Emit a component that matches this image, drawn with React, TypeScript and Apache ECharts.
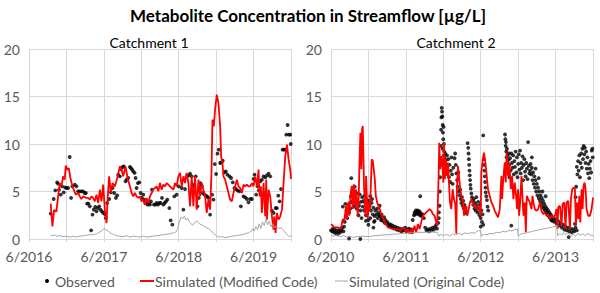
import React, { useEffect, useRef } from "react";
import * as echarts from "echarts";

const FONT = "Lato, 'Open Sans', sans-serif";
const mainTitle = "Metabolite Concentration in Streamflow [µg/L]";
const panelTitles = ["Catchment 1", "Catchment 2"];
const startYears = [2016, 2010]; // x = months since June of start year
const legendNames = ["Observed", "Simulated (Modified Code)", "Simulated (Original Code)"];
const yMax = 20;
const yStep = 5;
const xMaxMonths = 42;
const xStepMonths = 6;

// ---------- Catchment 1 ----------
const c1Observed: number[][] = [
  [3.48,2.67],[3.96,4.21],[4.23,5.12],[4.5,5.96],[4.66,5.82],[4.82,5.19],[5.09,4.67],[5.3,5.54],[5.57,4.91],[5.78,5.44],
  [6.0,5.37],[6.27,5.37],[6.53,8.63],[6.75,4.32],[6.96,5.54],[7.34,5.72],[7.61,5.54],[7.87,5.02],[8.14,5.02],[8.41,5.02],
  [8.68,5.02],[8.94,4.84],[9.11,4.84],[9.32,3.72],[9.53,3.72],[9.75,3.44],[9.96,0.91],[10.18,2.56],[10.39,3.09],[10.61,3.37],
  [10.82,2.91],[11.03,3.26],[11.25,3.44],[11.46,3.09],[11.68,2.91],[11.89,2.74],[12.16,2.63],[12.32,2.21],[12.53,3.79],[12.85,4.21],
  [13.12,4.91],[13.39,5.37],[13.66,4.84],[13.93,4.32],[14.14,4.6],[14.3,6.77],[14.57,6.6],[14.73,7.37],[15.0,7.58],[15.21,7.65],
  [15.48,6.07],[15.64,6.25],[15.91,6.42],[16.18,7.58],[16.34,7.47],[16.55,7.3],[16.71,7.12],[16.93,6.95],[17.09,6.42],[17.25,5.37],
  [17.46,5.89],[17.68,5.96],[17.89,4.84],[18.1,4.32],[18.32,4.67],[18.48,4.14],[18.64,3.79],[18.85,3.96],[19.01,3.61],[19.23,3.79],
  [19.39,3.61],[19.55,3.96],[19.71,5.19],[20.03,3.61],[20.25,3.61],[20.46,3.79],[20.68,3.61],[20.89,3.79],[21.1,3.79],[21.32,4.32],
  [21.53,3.61],[21.75,3.79],[21.96,3.96],[22.17,4.14],[22.5,3.26],[22.71,1.96],[22.98,1.51],[23.3,4.49],[23.67,4.67],[23.99,5.54],
  [24.48,5.37],[24.75,3.09],[25.01,5.26],[25.28,6.6],[25.55,6.67],[25.82,6.88],[26.08,6.6],[26.24,5.72],[26.46,5.54],[26.73,6.6],
  [27.0,3.44],[27.21,4.32],[27.48,5.89],[27.69,5.61],[27.85,4.84],[28.12,4.67],[28.33,4.56],[28.55,4.49],[28.76,4.32],[29.03,2.56],
  [29.35,4.67],[29.57,4.14],[29.78,7.89],[30.0,6.84],[30.21,8.98],[30.42,9.4],[30.64,8.0],[30.85,8.07],[31.06,8.25],[31.33,7.02],
  [31.55,7.12],[31.81,6.77],[32.14,6.6],[32.4,6.42],[32.67,5.96],[32.94,5.37],[33.2,5.26],[33.47,5.09],[33.74,5.02],[33.96,3.44],
  [34.39,4.49],[34.65,4.39],[34.92,4.21],[35.19,3.86],[35.46,4.21],[35.73,4.21],[35.99,6.32],[36.16,6.77],[36.42,4.67],[36.64,5.54],
  [36.85,5.12],[37.06,6.07],[37.33,6.25],[37.6,6.6],[37.87,6.49],[38.14,6.7],[38.41,6.88],[38.67,6.6],[38.94,2.98],[39.21,2.74],
  [39.53,3.26],[39.74,3.26],[39.96,4.56],[40.17,3.96],[40.39,5.26],[40.65,9.4],[40.87,9.4],[41.08,9.4],[41.24,10.98],[41.46,12.0],
  [41.67,10.98],[41.88,10.98],[41.96,10.0]
];
const c1Modified: number[][] = [
  [3.48,3.72],[3.75,1.33],[4.02,3.05],[4.39,2.88],[4.66,4.49],[4.93,5.89],[5.2,5.54],[5.46,6.6],[5.73,6.25],[5.89,7.72],
  [6.11,7.3],[6.37,7.47],[6.64,6.42],[6.96,5.54],[7.18,5.19],[7.5,4.67],[7.87,4.84],[8.14,4.49],[8.4,4.2],[8.68,4.49],
  [9.21,4.32],[9.48,4.32],[9.75,4.14],[10.02,4.49],[10.28,4.32],[10.55,3.96],[10.82,4.67],[11.09,3.79],[11.36,5.19],[11.62,3.96],
  [11.89,5.72],[12.16,3.05],[12.43,1.68],[12.59,4.14],[12.85,6.6],[13.12,4.84],[13.39,5.89],[13.77,5.54],[14.14,6.42],[14.57,7.65],
  [14.84,7.3],[15.1,6.6],[15.48,7.65],[15.8,6.42],[16.18,5.54],[16.44,4.84],[16.71,4.49],[16.98,4.84],[17.25,4.49],[17.51,4.32],
  [17.78,4.49],[18.05,3.96],[18.32,4.14],[18.59,3.61],[18.85,4.32],[19.12,3.79],[19.39,4.49],[19.66,4.84],[19.92,5.19],[20.19,5.37],
  [20.46,5.54],[20.73,5.02],[21.0,5.89],[21.26,5.19],[21.53,5.72],[21.8,5.54],[22.07,5.89],[22.34,5.72],[22.6,5.54],[22.87,5.37],
  [23.14,5.19],[23.41,5.89],[23.67,5.54],[23.94,6.6],[24.21,6.95],[24.48,5.54],[24.75,6.6],[25.01,5.89],[25.28,6.95],[25.55,5.89],
  [25.82,3.44],[26.08,6.6],[26.35,3.44],[26.62,6.6],[26.89,3.09],[27.16,6.25],[27.42,4.49],[27.69,5.89],[27.96,5.19],[28.23,4.49],
  [28.49,2.74],[28.76,4.14],[29.03,3.09],[29.24,6.6],[29.41,12.56],[29.62,11.86],[29.83,13.61],[30.1,15.19],[30.37,14.32],[30.64,11.86],
  [30.8,8.7],[31.01,8.0],[31.17,6.6],[31.44,6.25],[31.71,5.54],[31.98,4.84],[32.24,4.14],[32.51,3.96],[32.78,4.84],[33.05,5.54],
  [33.32,6.25],[33.58,5.54],[33.85,5.37],[34.12,4.84],[34.39,5.72],[34.65,5.54],[34.92,5.72],[35.19,5.54],[35.46,5.54],[35.73,5.89],
  [35.99,5.54],[36.26,6.6],[36.53,5.54],[36.8,7.3],[36.96,4.49],[37.17,5.54],[37.33,2.74],[37.6,5.89],[37.87,2.39],[38.03,6.25],
  [38.14,2.04],[38.41,5.19],[38.67,4.49],[38.94,2.39],[39.21,0.98],[39.32,2.39],[39.53,0.63],[39.74,2.74],[40.01,2.04],[40.28,2.39],
  [40.55,3.09],[40.81,5.89],[41.08,8.7],[41.35,9.93],[41.62,8.35],[41.88,7.3],[42.0,6.32]
];
const c1Original: number[][] = [
  [3.48,0.4],[3.86,0.35],[4.12,0.45],[4.39,0.3],[4.93,0.35],[5.46,0.25],[6.0,0.3],[6.53,0.2],[7.07,0.3],[7.61,0.2],
  [8.14,0.3],[8.68,0.35],[9.21,0.4],[9.75,0.45],[10.28,0.45],[10.82,0.55],[11.36,0.75],[11.62,0.85],[11.89,1.0],[12.05,1.15],
  [12.32,0.95],[12.69,0.85],[13.07,0.6],[13.5,0.5],[14.03,0.35],[14.57,0.3],[15.1,0.25],[15.64,0.35],[16.18,0.2],[16.71,0.3],
  [17.25,0.25],[17.78,0.2],[18.32,0.3],[18.85,0.2],[19.39,0.25],[19.92,0.3],[20.46,0.35],[21.0,0.4],[21.53,0.45],[22.07,0.5],
  [22.6,0.55],[23.14,0.65],[23.57,0.75],[23.84,1.1],[24.1,1.8],[24.37,2.3],[24.64,2.15],[24.91,2.4],[25.17,2.0],[25.44,2.2],
  [25.71,1.8],[25.98,1.6],[26.24,1.45],[26.51,1.7],[26.89,1.9],[27.26,1.65],[27.58,1.5],[27.96,1.4],[28.39,1.2],[28.76,1.1],
  [29.14,0.9],[29.57,0.6],[30.0,0.35],[30.42,0.2],[30.91,0.25],[31.44,0.15],[31.98,0.2],[32.51,0.3],[33.05,0.35],[33.58,0.4],
  [34.12,0.45],[34.65,0.55],[35.19,0.65],[35.56,0.8],[35.89,1.1],[36.1,0.85],[36.37,1.3],[36.64,1.0],[36.9,1.6],[37.17,1.1],
  [37.44,1.8],[37.71,1.4],[37.98,2.1],[38.24,1.5],[38.51,1.9],[38.78,1.3],[39.05,1.6],[39.32,1.2],[39.64,1.35],[40.01,1.1],
  [40.39,1.2],[40.71,1.0],[40.97,0.8],[41.24,0.55],[41.51,0.4],[41.78,0.2],[42.0,0.4]
];

// ---------- Catchment 2 ----------
const c2Observed: number[][] = [
  [0.0,0.9],[0.2,0.8],[0.3,1.1],[0.5,0.7],[0.6,1.0],[0.8,0.6],[0.9,0.9],[1.1,0.5],[1.2,0.8],[1.4,1.0],[1.5,0.7],[1.7,0.9],[1.8,1.2],[2.0,0.8],[2.1,1.3],
  [1.9,3.4],[2.3,3.7],[2.2,1.8],[2.4,2.4],[2.5,3.0],[2.6,2.2],[2.8,3.6],[2.9,2.8],[3.0,3.8],[3.1,3.2],[3.2,4.5],[3.3,3.9],[3.25,6.4],[3.5,4.8],[3.6,3.4],
  [3.7,4.0],[3.8,5.5],[3.9,3.6],[4.0,4.3],[4.1,3.2],[4.2,4.8],[4.3,3.8],[4.4,2.5],[4.5,3.5],[4.6,4.7],[4.7,3.0],[4.8,3.9],[4.9,2.2],[5.0,4.4],[5.1,3.4],
  [5.2,4.0],[5.3,3.0],[5.4,4.6],[5.5,3.8],[5.6,2.5],[5.7,3.2],[5.8,4.1],[5.9,3.6],[6.0,2.0],[6.1,4.0],[6.2,3.5],[6.3,4.5],[6.4,3.0],[6.5,3.8],[6.6,4.2],
  [6.7,2.6],[6.8,3.3],[6.9,1.8],[7.0,2.4],[2.9,0.05],[4.7,0.0],[5.6,1.9],[6.0,1.5],[6.3,2.2],[6.8,1.2],[7.0,1.9],
  [7.1,3.0],[7.3,2.6],[7.4,3.2],[7.5,2.2],[7.6,2.8],[7.7,2.5],[7.8,3.5],[7.9,2.4],[8.0,2.0],[8.1,2.6],[8.2,2.2],[8.3,1.9],[8.5,2.3],[8.6,1.7],[8.7,2.0],
  [8.9,1.6],[9.0,1.8],[9.2,1.4],[9.3,1.6],[9.5,1.3],[9.6,1.5],[9.8,1.2],[9.9,1.4],[10.1,1.1],[10.3,1.3],[10.5,1.0],[10.7,1.2],[10.9,0.9],[11.1,1.1],[11.3,0.8],
  [11.5,1.0],[11.7,0.9],[11.9,1.2],[12.1,0.8],[12.3,1.0],[12.5,1.1],[12.7,0.9],[12.9,1.0],[13.0,0.7],
  [13.1,2.0],[13.3,2.5],[13.4,2.8],[13.5,2.6],[13.6,3.0],[13.7,2.7],[13.8,2.9],[13.9,3.0],[14.0,2.6],[14.1,2.8],[14.2,2.9],[14.3,2.5],[14.4,2.7],[14.5,2.4],[14.7,2.6],
  [14.9,2.2],[14.3,4.5],[15.1,1.2],[15.3,0.9],[15.5,1.0],[15.7,0.8],[15.9,1.1],[16.1,0.9],[16.3,1.2],[16.5,1.0],[16.7,1.3],[16.9,1.5],[17.0,1.1],[17.2,1.7],[17.3,2.2],
  [17.3,2.8],[17.4,3.5],[17.45,5.0],[17.5,6.5],[17.55,8.0],[17.6,9.8],[17.65,11.5],[17.7,12.8],[17.75,13.8],[17.8,13.4],[17.85,12.9],[17.9,12.0],[17.95,11.2],[18.0,10.5],[18.05,11.8],
  [18.1,10.0],[18.15,9.2],[18.2,8.5],[17.7,7.8],[17.8,8.2],[17.9,9.5],[18.0,8.0],[18.1,8.8],[18.2,7.6],[18.3,9.0],[18.4,8.3],[18.5,7.5],[18.6,8.8],[18.7,7.0],[18.8,8.4],
  [18.9,6.5],[19.0,7.8],[19.1,6.0],[19.2,7.2],[19.3,8.6],[19.4,6.8],[19.5,5.8],[19.6,7.5],
  [19.8,8.5],[19.9,9.0],[20.0,7.8],[20.1,6.9],[20.2,6.2],[20.3,5.5],[20.4,7.0],[20.5,5.0],[20.6,4.6],[20.7,5.2],[20.8,4.2],[20.9,3.8],[21.0,4.4],[21.1,3.5],[21.2,4.0],
  [21.3,3.2],[21.4,3.6],[21.5,2.9],[21.6,3.3],[21.7,2.7],
  [21.9,10.1],[22.0,9.6],[22.05,9.0],[22.1,8.4],[22.15,7.8],[22.2,7.2],[22.25,6.7],[22.3,6.2],[22.35,5.7],[22.4,5.3],[22.5,4.8],[22.6,4.4],
  [22.7,4.0],[22.8,3.6],[22.9,4.2],[23.0,3.2],[23.1,3.8],[23.2,3.0],[23.3,4.4],[23.4,3.5],[23.5,2.8],[23.6,3.9],[23.7,3.2],[23.8,2.5],[23.9,3.6],[24.0,2.2],[24.1,3.0],
  [24.2,1.8],[24.3,2.6],[24.4,1.5],[24.0,1.3],
  [24.4,10.9],[24.5,8.4],[24.55,7.8],[24.6,7.2],[24.65,6.6],[24.7,6.0],[24.75,5.4],[24.8,4.9],[24.9,4.5],[25.0,4.1],[25.1,3.4],[25.2,3.0],
  [27.9,11.0],[27.95,10.5],[28.0,9.8],[28.05,10.2],[28.1,9.2],[28.15,8.6],[28.2,9.5],[28.25,8.0],[28.3,8.8],[28.35,7.6],[28.4,8.3],[28.45,7.0],[28.5,9.0],[28.55,7.8],[28.6,6.5],
  [28.7,8.5],[28.8,7.2],[28.9,9.0],[28.9,1.4],[29.0,8.0],[29.1,7.5],[29.2,8.8],[29.3,6.8],[29.4,8.2],[29.5,7.6],[29.6,9.2],[29.7,7.0],[29.8,8.6],[29.9,6.5],[30.0,7.9],
  [30.1,8.9],[30.2,7.3],[30.3,9.3],[30.4,6.9],[30.5,8.0],[30.6,7.5],[30.7,8.7],[30.8,6.2],[30.9,7.8],[31.0,8.4],[31.1,7.1],[31.2,6.6],[31.3,8.0],[31.4,7.4],[31.5,6.3],
  [31.6,10.2],[31.7,7.7],[31.8,6.9],[31.9,7.2],
  [32.0,7.9],[32.1,6.8],[32.2,7.5],[32.3,6.2],[32.4,7.0],[32.5,5.8],[32.6,6.6],[32.7,5.4],[32.8,6.2],[32.9,5.0],[33.0,5.8],[33.1,4.6],[33.2,5.4],[33.3,4.3],[33.4,5.0],
  [33.5,4.0],[33.6,4.6],[33.7,3.7],[33.8,4.3],[33.9,3.4],[34.0,4.0],[34.1,3.2],[34.2,3.7],[34.3,3.0],[34.4,3.4],[34.5,2.8],[34.6,3.2],[34.7,2.6],[34.8,3.0],[34.9,2.4],
  [35.0,2.8],[35.1,2.2],[35.2,2.6],[35.3,2.0],[35.4,2.4],[35.5,1.9],[35.6,2.2],[32.2,8.6],[32.8,7.4],[33.3,6.4],[33.9,5.0],[34.4,4.5],
  [35.8,1.8],[36.0,2.1],[36.2,1.6],[36.4,1.9],[36.6,1.4],[36.8,1.7],[37.0,1.2],[37.2,1.5],[37.4,1.0],[37.6,1.3],[37.8,0.9],[38.0,1.2],[38.1,0.2],[38.2,0.8],[38.4,1.1],
  [38.6,0.7],[38.8,1.0],[39.0,0.8],[39.2,1.2],[39.4,0.9],[39.1,1.6],
  [39.2,4.4],[39.3,5.5],[39.4,7.6],[39.5,6.8],[39.6,8.2],[39.7,7.2],[39.8,8.8],[39.9,6.5],[40.0,8.0],[40.1,9.0],[40.2,7.5],[40.3,9.5],[40.4,8.4],[40.5,9.8],[40.6,8.9],
  [40.7,9.6],[40.8,8.0],[40.9,9.2],[41.0,7.4],[41.1,8.6],[41.2,6.9],[41.3,7.9],[41.4,6.4],[41.5,7.4],[41.6,8.2],[41.7,7.0],[41.8,9.3],[41.9,9.5],[41.95,8.6]
];
const c2Modified: number[][] = [
  [0,1.57],[0.27,1.4],[0.54,1.22],[1.07,1.22],[1.61,1.12],[1.87,2.1],[2.14,1.92],[2.41,3.5],[2.57,2.1],[2.79,3.85],
  [2.95,2.45],[3.11,4.55],[3.32,5.59],[3.48,3.15],[3.64,5.77],[3.86,3.5],[4.02,5.24],[4.28,2.45],[4.45,4.55],[4.55,7.69],
  [4.71,11.19],[4.87,7.34],[4.98,11.54],[5.09,11.89],[5.2,8.74],[5.3,5.24],[5.41,4.55],[5.52,2.45],[5.62,6.64],[5.78,3.85],
  [5.89,2.1],[6.05,3.85],[6.21,2.97],[6.37,5.24],[6.53,8.39],[6.7,8.22],[6.86,7.34],[7.02,6.29],[7.18,4.55],[7.39,3.85],
  [7.61,3.5],[7.82,3.15],[8.03,2.62],[8.3,2.27],[8.57,1.82],[8.84,1.57],[9.11,1.22],[9.64,1.12],[10.18,1.05],[10.71,1.05],
  [11.14,0.87],[11.52,1.22],[11.78,1.05],[12.05,0.7],[12.32,1.05],[12.59,0.52],[12.86,1.05],[13.12,0.63],[13.39,1.4],[13.66,0.7],
  [13.93,1.57],[14.19,1.05],[14.46,1.75],[14.73,2.45],[15.0,2.62],[15.27,2.8],[15.53,2.97],[15.8,3.15],[16.07,2.97],[16.34,2.62],
  [16.6,2.45],[16.87,1.75],[17.03,1.4],[17.25,6.64],[17.35,10.14],[17.51,7.34],[17.68,8.74],[17.84,8.04],[18.0,5.94],[18.1,10.14],
  [18.26,6.29],[18.43,8.39],[18.59,6.64],[18.75,8.04],[18.91,5.94],[19.07,3.85],[19.28,3.15],[19.5,5.24],[19.71,4.2],[19.92,3.67],
  [20.09,0.56],[20.19,5.24],[20.35,7.69],[20.51,6.64],[20.67,5.59],[20.89,4.55],[21.16,3.85],[21.32,2.45],[21.53,3.5],[21.69,3.15],
  [21.85,2.45],[22.07,3.15],[22.28,3.85],[22.5,4.2],[22.76,3.67],[23.03,3.5],[23.3,3.15],[23.57,3.5],[23.84,3.15],[24.0,2.45],
  [24.1,6.99],[24.32,8.39],[24.53,9.09],[24.75,8.04],[24.96,6.64],[25.17,5.24],[25.44,4.55],[25.71,3.85],[25.98,3.5],[26.25,2.97],
  [26.51,2.62],[26.78,2.27],[27.05,3.15],[27.32,6.64],[27.42,4.2],[27.58,5.94],[27.75,7.34],[27.85,8.04],[28.01,5.94],[28.17,9.09],
  [28.39,6.64],[28.6,8.04],[28.82,5.24],[29.03,6.64],[29.24,4.2],[29.46,5.94],[29.67,4.55],[29.83,3.15],[29.99,5.24],[30.16,2.45],
  [30.32,3.85],[30.53,6.64],[30.69,4.55],[30.85,2.45],[31.07,3.85],[31.23,0.7],[31.39,4.55],[31.6,4.2],[31.87,3.85],[32.14,3.15],
  [32.3,4.55],[32.46,3.85],[32.67,3.15],[32.94,2.97],[33.21,3.15],[33.48,3.85],[33.74,2.97],[34.01,2.62],[34.28,2.8],[34.55,2.45],
  [34.81,2.62],[35.08,2.1],[35.35,2.45],[35.62,2.27],[35.89,2.45],[36.15,3.15],[36.32,1.05],[36.42,3.32],[36.69,3.5],[36.96,1.4],
  [37.12,3.67],[37.39,3.85],[37.6,1.05],[37.76,3.85],[38.03,4.02],[38.3,1.05],[38.46,4.2],[38.67,5.24],[38.89,5.42],[39.1,5.24],
  [39.26,1.4],[39.42,3.85],[39.64,2.1],[39.8,4.55],[39.96,1.75],[40.17,5.24],[40.33,3.15],[40.49,5.59],[40.65,5.94],[40.81,5.24],
  [40.97,3.15],[41.24,2.45],[41.51,2.45],[41.78,3.15],[42.0,4.37]
];
const c2Original: number[][] = [
  [0,0.4],[0.5,0.3],[1,0.45],[1.5,0.25],[2,0.35],[2.5,0.2],[3,0.3],[3.5,0.15],[4,0.25],[5,0.3],[6,0.25],[7,0.35],[8,0.4],[9,0.45],
  [10,0.5],[11,0.55],[12,0.6],[13,0.65],[14,0.7],[15,0.7],[16,0.75],[17,0.7],[17.3,0.3],[17.6,0.5],[18,0.35],[18.5,0.5],[19,0.3],
  [19.5,0.55],[20,0.4],[20.5,0.6],[21,0.45],[21.5,0.65],[22,0.55],[22.5,0.7],[23,0.6],[23.5,0.85],[24,0.9],[24.1,0.3],[24.5,0.5],
  [25,0.45],[25.5,0.6],[26,0.55],[26.5,0.7],[27,0.65],[27.5,0.8],[28,0.75],[28.5,0.9],[29,0.85],[29.5,1.0],[29.9,1.05],[30.0,0.3],
  [30.5,0.55],[31,0.6],[31.5,0.7],[32,0.75],[32.5,0.85],[33,0.9],[33.5,1.0],[34,1.05],[34.5,1.1],[35,1.2],[35.5,1.25],[36,1.35],
  [36.2,1.45],[36.3,0.3],[36.7,0.6],[37,0.4],[37.3,0.7],[37.6,0.45],[38,0.65],[38.4,0.3],[38.8,0.5],[39.2,0.3],[39.6,0.6],[40,0.4],
  [40.4,0.55],[40.8,0.35],[41.2,0.6],[41.6,0.4],[42.0,0.35]
];

const panels = [
  { observed: c1Observed, modified: c1Modified, original: c1Original },
  { observed: c2Observed, modified: c2Modified, original: c2Original },
];

const GRID = [
  { left: 29, top: 49, width: 262, height: 190 },
  { left: 331, top: 49, width: 262, height: 190 },
];
const GRAY_TEXT = "#595959";
const GRID_LINE = "#d9d9d9";
const RED = "#ff0000";
const ORIG = "#a6a6a6";

export default function App() {
  const ref = useRef<HTMLDivElement>(null);
  useEffect(() => {
    if (!ref.current) return;
    const chart = echarts.init(ref.current, null, { renderer: "svg" });
    const xAxes = panels.map((_, i) => ({
      type: "value",
      gridIndex: i,
      min: 0,
      max: xMaxMonths,
      interval: xStepMonths,
      axisLine: { show: true, lineStyle: { color: GRID_LINE, width: 1 } },
      axisTick: { show: true, length: 3, lineStyle: { color: GRID_LINE } },
      splitLine: { show: true, lineStyle: { color: GRID_LINE, width: 1 } },
      axisLabel: {
        color: GRAY_TEXT,
        fontFamily: FONT,
        fontSize: 14,
        lineHeight: 14,
        margin: 10,
        showMaxLabel: true,
        formatter: (v: number) => (v % 12 === 0 ? `6/${startYears[i] + v / 12}` : ""),
      },
    }));
    const yAxes = panels.map((_, i) => ({
      type: "value",
      gridIndex: i,
      min: 0,
      max: yMax,
      interval: yStep,
      axisLine: { show: false },
      axisTick: { show: false },
      splitLine: { show: true, lineStyle: { color: GRID_LINE, width: 1 } },
      axisLabel: { color: GRAY_TEXT, fontFamily: FONT, fontSize: 14, lineHeight: 14, margin: 9 },
    }));
    const series: any[] = [];
    panels.forEach((p, i) => {
      series.push({
        type: "scatter",
        name: legendNames[0],
        xAxisIndex: i,
        yAxisIndex: i,
        data: p.observed,
        symbol: "circle",
        symbolSize: 3.8,
        itemStyle: { color: "#000000" },
        z: 2,
      });
      series.push({
        type: "line",
        name: legendNames[1],
        xAxisIndex: i,
        yAxisIndex: i,
        data: p.modified,
        showSymbol: false,
        lineStyle: { color: RED, width: 1.8 },
        z: 3,
      });
      series.push({
        type: "line",
        name: legendNames[2],
        xAxisIndex: i,
        yAxisIndex: i,
        data: p.original,
        showSymbol: false,
        lineStyle: { color: ORIG, width: 1 },
        z: 4,
      });
    });
    const legendY = 281;
    chart.setOption({
      animation: false,
      backgroundColor: "#ffffff",
      grid: GRID,
      xAxis: xAxes,
      yAxis: yAxes,
      series,
      graphic: [
        {
          type: "text", x: 308, y: 15,
          style: { text: mainTitle, fontFamily: FONT, fontSize: 17, fontWeight: "bold", fill: "#000", align: "center", verticalAlign: "middle" },
        },
        {
          type: "text", x: 149, y: 42,
          style: { text: panelTitles[0], fontFamily: FONT, fontSize: 14, fill: "#000", align: "center", verticalAlign: "middle" },
        },
        {
          type: "text", x: 456, y: 42,
          style: { text: panelTitles[1], fontFamily: FONT, fontSize: 14, fill: "#000", align: "center", verticalAlign: "middle" },
        },
        { type: "circle", shape: { cx: 47, cy: legendY, r: 2 }, style: { fill: "#000" } },
        {
          type: "text", x: 55, y: legendY,
          style: { text: legendNames[0], fontFamily: FONT, fontSize: 14, fill: GRAY_TEXT, verticalAlign: "middle" },
        },
        { type: "line", shape: { x1: 140, y1: legendY, x2: 154, y2: legendY }, style: { stroke: RED, lineWidth: 2 } },
        {
          type: "text", x: 155, y: legendY,
          style: { text: legendNames[1], fontFamily: FONT, fontSize: 14, fill: GRAY_TEXT, verticalAlign: "middle" },
        },
        { type: "line", shape: { x1: 335, y1: legendY, x2: 348, y2: legendY }, style: { stroke: ORIG, lineWidth: 1 } },
        {
          type: "text", x: 349, y: legendY,
          style: { text: legendNames[2], fontFamily: FONT, fontSize: 14, fill: GRAY_TEXT, verticalAlign: "middle" },
        },
      ],
    });
    return () => chart.dispose();
  }, []);
  return (
    <div
      ref={ref}
      style={{ position: "fixed", left: 0, top: 0, width: 600, height: 293, background: "#fff" }}
    />
  );
}
